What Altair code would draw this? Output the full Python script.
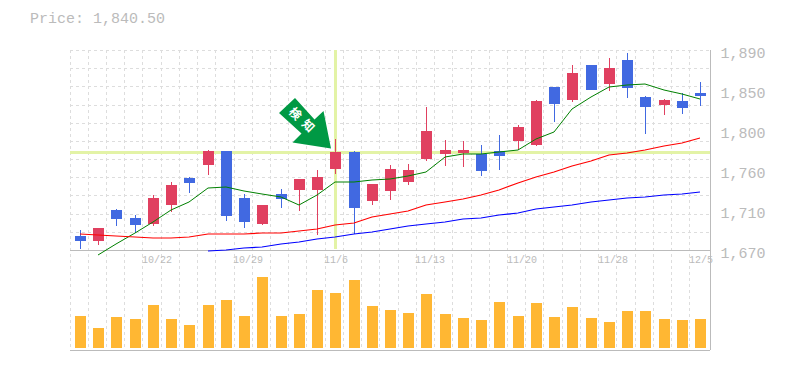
import altair as alt
import pandas as pd

idx = list(range(1, 36))
tops = [1685,1694,1714,1705,1727,1741.5,1749,1779,1779,1727,1719.5,1731.5,1748,1750,1778,1778,1742.5,1759,1758,1801,1780,1780,1775.5,1779,1805,1834,1849,1864.5,1873.5,1870,1879,1838,1835,1834,1843]
bots = [1680,1680,1704,1697,1699,1719,1744,1764,1707,1701,1699,1726,1736,1736,1759,1716.5,1724,1735,1745,1770,1775.5,1777,1757,1773.5,1790,1785.5,1830.5,1835,1846,1852.5,1848,1827,1829.5,1826,1839.5]
highs = [1692,1694,1715,1708.5,1730.5,1745,1750,1780,1779,1731.5,1719.5,1737,1748,1758,1792,1779,1742.5,1763.5,1764.5,1827,1791,1790,1785.5,1796.5,1807.5,1835,1849,1873.5,1873.5,1881,1887,1839.5,1836,1843,1855]
lows = [1671,1676,1696,1689,1696,1712,1733,1752,1702,1694.5,1697.5,1716.5,1713,1686,1753.5,1688,1719.5,1725,1741.5,1768,1762.5,1761,1751.5,1758,1780,1784.5,1811,1833,1846,1845,1837,1797.5,1818.5,1819.5,1828.5]
kinds = list("BRBBRRBRBBRBRRRBRRRRRRBBRRBRBRBBRBB")
vols = [32,20,31,29,43,29,23,43,48,32,71,32,34,58,55,68,42,38,35,54,34,30,28,46,32,45,31,41,30,26,37,37,29,28,29]
ma_short = [None,1665,1676.6,1688.7,1700.8,1714,1723,1738,1739,1735,1731.6,1728.6,1720,1730,1744.5,1745,1747,1748,1751.4,1756,1772,1775.6,1775.6,1778,1780,1792,1800,1825,1838,1849,1851,1852.6,1846,1842,1836]
ma_mid = [1687.6,1687,1685.4,1684.3,1683,1683.5,1684.6,1687.3,1687.3,1687.3,1688.4,1689,1690.6,1692.8,1697.5,1700,1706,1709.6,1713,1720,1722.5,1726,1731,1736,1743.4,1750.6,1756,1762.7,1768,1774,1777,1780,1784,1788,1793]
ma_long = [None]*7 + [1668.6,1670,1672,1673.6,1676.6,1678.8,1681.8,1684.6,1687.6,1690,1693,1696,1698.6,1701,1703.8,1705,1708.5,1710.7,1715,1717.6,1720,1722.5,1724.7,1727,1728.6,1730,1732,1734]
date_idx = [5, 10, 15, 20, 25, 30, 35]
date_lbl = ["10/22", "10/29", "11/6", "11/13", "11/20", "11/28", "12/5"]
price_ticks = [1670, 1714, 1758, 1802, 1846, 1890]
grid_y = [1670 + 20 * i for i in range(12)]
grid_x = [0.45] + [0.417 + i for i in range(1, 35)]
cross_idx = 15
cross_price = 1777.5
price_text = "Price: 1,840.50"
arrow_text = "検知"

RED, BLUE, ORANGE, GRAY = "#E04060", "#4169E1", "#FFB733", "#BBBBBB"
CROSS = "#E3F3A6"
GREEN_ARROW = "#009944"
MONO = "Liberation Mono"

candles = pd.DataFrame(dict(i=idx, top=tops, bot=bots, hi=highs, lo=lows, kind=kinds, vol=vols))
X = alt.X("i:Q", scale=alt.Scale(domain=[0.45, 35.55], nice=False, zero=False, padding=0, round=True), axis=None)
PS = alt.Scale(domain=[1560, 1890], nice=False, zero=False, round=True)
VS = alt.Scale(domain=[-2, 298], nice=False, zero=False, round=True)
col = alt.Color("kind:N", scale=alt.Scale(domain=["R", "B"], range=[RED, BLUE]), legend=None)


def Y(f):
    return alt.Y(f, scale=PS, axis=None, title=None)


vgrid = alt.Chart(pd.DataFrame({"i": grid_x})).mark_rule(color="#DDDDDD", strokeWidth=1, strokeDash=[3, 3], xOffset=0.5).encode(x=X)
hgrid = alt.Chart(pd.DataFrame({"p": grid_y})).mark_rule(color="#DDDDDD", strokeWidth=1, strokeDash=[3, 3], yOffset=0.5).encode(
    y=Y("p:Q"), x=alt.value(0), x2=alt.value(640))
axis_p = alt.Chart(pd.DataFrame({"p": price_ticks})).mark_rule(opacity=0).encode(
    y=alt.Y("p:Q", scale=PS, title=None, axis=alt.Axis(
        orient="right", values=price_ticks, grid=False, domain=False, ticks=False,
        labelFont=MONO, labelFontSize=15, labelColor=GRAY, labelPadding=10, labelOffset=2,
        labelExpr="format(round(datum.value/10)*10, ',')")))
base_p = alt.Chart(pd.DataFrame({"p": [1670]})).mark_rule(color=GRAY, strokeWidth=1, yOffset=0.5).encode(
    y=Y("p:Q"), x=alt.value(0), x2=alt.value(640))
frame_r = alt.Chart(pd.DataFrame({"a": [1]})).mark_rule(color=GRAY, strokeWidth=1, xOffset=0.5).encode(
    x=alt.value(640), y=alt.value(0), y2=alt.value(300))
frame_b = alt.Chart(pd.DataFrame({"a": [1]})).mark_rule(color=GRAY, strokeWidth=1, yOffset=0.5).encode(
    x=alt.value(0), x2=alt.value(640), y=alt.value(300))
cross_h = alt.Chart(pd.DataFrame({"p": [cross_price]})).mark_rule(color=CROSS, strokeWidth=3, yOffset=0.5).encode(
    y=Y("p:Q"), x=alt.value(0), x2=alt.value(640))
cross_v = alt.Chart(pd.DataFrame({"i": [cross_idx], "a": [1890], "b": [1671]})).mark_rule(color=CROSS, strokeWidth=3, xOffset=0.5).encode(
    x=X, y=Y("a:Q"), y2="b:Q")
wick = alt.Chart(candles).mark_rule(strokeWidth=1, xOffset=0.5).encode(x=X, y=Y("hi:Q"), y2="lo:Q", color=col)
body = alt.Chart(candles).mark_bar(size=11, xOffset=0.5).encode(x=X, y=Y("top:Q"), y2="bot:Q", color=col)


def ma(vals, color, w):
    df = pd.DataFrame({"i": idx, "v": vals}).dropna()
    return alt.Chart(df).mark_line(color=color, strokeWidth=w).encode(x=X, y=Y("v:Q"))


vol = alt.Chart(candles).mark_bar(size=11, color=ORANGE, xOffset=0.5).encode(
    x=X, y=alt.Y("vol:Q", scale=VS, axis=None, title=None), y2=alt.Y2(datum=0))
dates = alt.Chart(pd.DataFrame({"i": date_idx, "t": date_lbl})).mark_text(
    font=MONO, fontSize=10, color=GRAY, align="left", dx=-11).encode(x=X, y=alt.value(210), text="t:N")
title = alt.Chart(pd.DataFrame({"t": [price_text]})).mark_text(
    font=MONO, fontSize=15, color=GRAY, align="left").encode(x=alt.value(-40), y=alt.value(-32), text="t:N")

# arrow, in symbol units (about 50 px per unit), centred at the mark's position
ARROW = "M-0.2,-0.5 L-0.52,-0.2 L-0.07,0.21 L-0.25,0.39 L0.52,0.51 L0.37,-0.24 L0.19,-0.07 Z"
arrow = alt.Chart(pd.DataFrame({"i": [13.34], "p": [1810]})).mark_point(
    shape=ARROW, filled=True, size=10000, color=GREEN_ARROW, opacity=1).encode(x=X, y=Y("p:Q"))
atext = alt.Chart(pd.DataFrame({"i": [12.79, 13.5], "p": [1819.6, 1806.4], "t": list(arrow_text)})).mark_text(
    font="Noto Sans CJK JP", fontSize=12, fontWeight="bold", color="white", angle=45).encode(
    x=X, y=Y("p:Q"), text="t:N")

chart = alt.layer(
    vgrid, hgrid, base_p, frame_r, frame_b, cross_h, cross_v, wick, body,
    ma(ma_short, "#008000", 1), ma(ma_mid, "#FF0000", 1.2), ma(ma_long, "#0000FF", 1.2),
    vol, dates, title, arrow, atext, axis_p,
).resolve_scale(y="independent", color="independent").properties(
    width=640, height=300, autosize="none",
    padding={"left": 62, "top": 42, "right": 67, "bottom": 10},
).configure_view(stroke=None)

chart.save("out.html", embed_options={"renderer": "svg", "actions": False})
